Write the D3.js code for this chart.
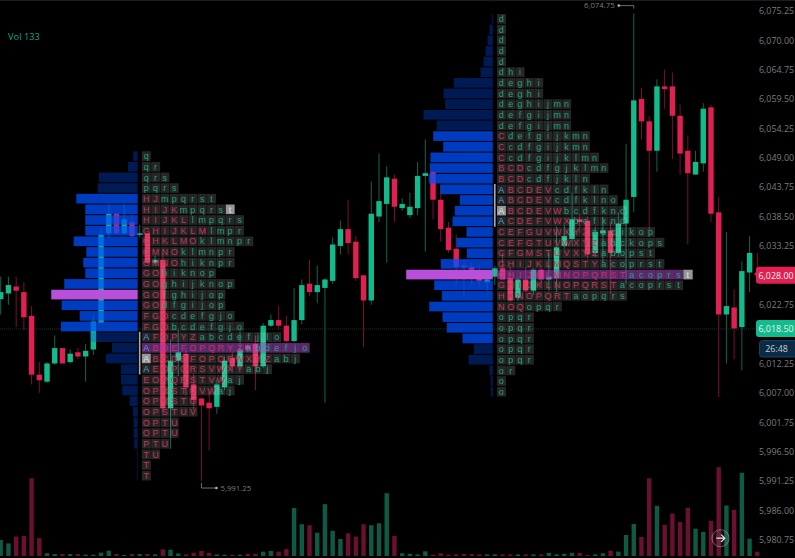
<!DOCTYPE html>
<html>
<head>
<meta charset="utf-8">
<script src="https://cdn.jsdelivr.net/npm/d3@7"></script>
<style>
html, body { margin: 0; padding: 0; background: #000; overflow: hidden; }
svg { display: block; font-family: "Open Sans", sans-serif; }
</style>
</head>
<body>
<script>
// Candles, one entry per bar
var opens = [6023.75,6024.75,6026,6025,6020.75,6010.25,6009,6012.25,6015,6012.5,6014.25,6013.5,6014.75,6019.5,6035.5,6039,6035.5,6037.5,6035.25,6035.5,6030.25,6030.75,6004.25,6012.75,6014,6008.5,6006,6005.25,6004.5,6008,6013.25,6011.75,6015.5,6015.75,6011.75,6019,6020,6019,6016.25,6020,6026.5,6025,6025.75,6027,6033.25,6036.25,6034,6028,6023.5,6038.5,6040.75,6045.25,6040,6038.75,6040,6045.75,6046.5,6041.5,6036.5,6032.75,6029.75,6029.5,6027.5,6026.75,6027.75,6029.25,6027.5,6024,6027.25,6025.25,6029,6027.25,6027.5,6033.25,6034.5,6038,6037.75,6032,6035.5,6036,6032,6037.25,6042,6059.5,6055.5,6050.25,6061.75,6061.75,6056.5,6050.25,6046,6048,6058,6039.25,6021,6022.25,6018.75,6028.5,6028.5];
var highs = [6027.75,6027.75,6027.75,6026.75,6022.5,6012.5,6012.5,6017.25,6015,6014.75,6015,6015.75,6021,6036.5,6040.75,6039,6040.75,6039,6037,6035.5,6031.5,6032,6016.5,6018.25,6014.75,6010.5,6006,6007,6009.5,6013.5,6014.25,6018,6015.75,6017.25,6019.5,6021,6022.5,6020.75,6025.75,6027.25,6030.75,6029.75,6027.5,6034.75,6037.75,6041.5,6035,6028,6044.75,6049.75,6047.5,6046,6041.75,6042.75,6048.25,6052.25,6046.5,6044.25,6037.5,6035.25,6030.75,6030.25,6029.75,6028.25,6029.75,6032,6029.5,6027.5,6029.5,6029.25,6029.25,6032,6036.75,6037,6042.75,6039,6038.5,6036.75,6038.25,6037.5,6039.25,6051.5,6074.75,6061.5,6056.5,6063,6064.75,6064.25,6058.5,6053,6050.25,6058.75,6058.5,6042,6035.75,6025.5,6030.5,6035,6032];
var lows = [6021,6022.75,6018.75,6018.25,6008.5,6007,6008.75,6012,6012.25,6012.25,6013,6009,6013.75,6019.25,6034.75,6035.5,6035.25,6034.75,6034.75,6030.25,6030,6003.5,5997,6010,6006.5,6004,5991.25,5996.75,6003.25,6007.5,6011,6011.5,6014.25,6007.5,6011.5,6018.75,6018.25,6016,6016,6019.25,6024.25,6023,6005.25,6026.5,6031.75,6031.75,6027,6015.25,6022.75,6037.5,6030.25,6037.5,6039.5,6038.25,6038.75,6032.25,6038,6034,6032,6026.25,6024.25,6026.25,6026,6025.25,6026.25,6027.25,6023.25,6023.5,6025,6024.5,6026,6025.25,6025,6032.75,6033.25,6035.5,6031,6031.25,6030.25,6024.75,6031.25,6026.5,6039.25,6052.25,6036,6046.5,6057.75,6048.75,6046,6033.5,6046,6046.5,6037.5,6006.25,6012.25,6013,6011,6025,6027.5];
var closes = [6025,6026.25,6025.25,6020.5,6010.25,6009.25,6012.25,6015,6012.25,6014,6013.5,6014.5,6019.75,6035.25,6039,6035.5,6038,6035,6035.5,6030.25,6030.75,6004.25,6012.75,6014.25,6008,6005.75,6004.75,6004.25,6008.5,6012.75,6011.75,6014.75,6014.75,6011.75,6019,6020,6019,6016.25,6020,6026.25,6025,6026.25,6027.25,6033.5,6036.25,6033.75,6027.5,6023.5,6039,6041.25,6045.5,6040.25,6040.75,6040.25,6045.75,6046.25,6041.5,6036.25,6032.5,6029.5,6029.5,6029,6027,6027.25,6029.25,6027.25,6023.5,6027.25,6025.25,6029,6027.25,6027.75,6033,6035,6038,6037.5,6031.75,6035.75,6036,6032,6037.25,6041.5,6059.25,6055.5,6050.25,6061.75,6061.25,6056.5,6049.75,6046.25,6048.25,6057.75,6039,6021,6022.5,6018.5,6028.75,6032,6028];
var volumes = [496,390,600,620,2400,550,85,60,60,60,60,40,40,105,165,60,30,60,60,60,50,205,195,80,50,100,155,100,50,40,40,40,70,70,135,155,135,215,1480,980,950,720,1600,775,525,700,600,980,950,1010,1940,620,85,70,50,145,40,85,40,50,60,60,50,50,50,50,50,50,50,50,50,95,50,70,100,95,30,50,85,165,135,650,990,590,2400,1550,960,1310,1050,1490,845,745,1085,2740,1560,1425,2570,535,133];

// Price axis
var tickPrices = [6075.25,6070,6064.75,6059.5,6054.25,6049,6043.75,6038.5,6033.25,6022.75,6012.25,6007,6001.75,5996.5,5991.25,5986,5980.75];
var axisTop = 6075.25, axisBottom = 5980.75;
var lastPrice = 6028, livePrice = 6018.5;

// Left market profile
var leftBar = 18, leftHigh = 6050.25, leftLow = 5991.25, leftPoc = 13, leftLetterPoc = 18;
var leftValueArea = [4, 16], leftOpenRange = [17, 20];
var leftLetters = ["q","qr","qrs","pqrs","HJmpqrst","HIJKmpqrst","HIJKLlmpqrs","GHIJKLMlmpr","GHKLMOklmnpr","GMNOklmnpr","GMNOhiknpr","GOhiknop","GOghijknop","GOfghijop","GOdfgijop","FGOcdefgjo","FGObcdefgjo","AFOPYZabcdefjlo","ABDEFOPQRYZabdefjo","ABCDEFOPQRWXYZabj","AEOPQRSVWXYabj","EOPQRSTVWaj","OPRSTUVWaj","OPRSTU","OPSTUV","OPTU","OPTU","PTU","TU","T","T"];
var leftSizes = [44,97,387,400,614,524,524,524,640,514,544,524,734,864,760,580,767,470,257,317,167,167,154,80,47,40,40,34,8,8,8];

// Right market profile
var rightBar = 64, rightHigh = 6074.75, rightLow = 6006.25, rightPoc = 24, rightLetterPoc = 24;
var rightValueArea = [11, 30], rightOpenRange = [16, 19];
var rightLetters = ["d","d","d","d","d","dhi","deghi","deghi","deghijmn","defgijmn","defgijmn","Cdefgijkmn","Ccdfgijkmn","Ccdfgijklmn","BCDcdfgjklmn","BCDcdfjkln","ABCDEVcdfkln","ABCDEVcdfklno","ABCDEVWbcdfkno","ACDEFVWXbcfkno","CEFGUVWXYZabcikop","CEFGTUVWXYZabckops","CFGMSTUVXYZabopst","GHIJKLMQSTYacoprst","GHIJKLMNOPQRSTacoprst","GHIJKLNOPQRSTacoprst","HKNOPQRTaopqrs","NOQopqr","opqr","opqr","opqr","opqr","opqr","or","o","o"];
var rightSizes = [10,33,53,73,93,123,390,493,476,693,560,596,496,623,630,640,523,330,380,403,263,363,260,520,866,586,510,636,503,460,303,190,243,33,20,20];

var width = 795, height = 558;
var green = "#11bb8b", red = "#e21f52";
var greenDim = "#0e6650", redDim = "#7a1033";

var svg = d3.select("body").append("svg").attr("width", width).attr("height", height);
svg.append("rect").attr("width", width).attr("height", height).attr("fill", "#000");
svg.append("rect").attr("width", width).attr("height", 1).attr("fill", "#1c1c1c");

var x = d3.scaleLinear().domain([0, opens.length - 1]).range([0.7, 757.3]);
var y = d3.scaleLinear().domain([axisBottom, axisTop]).range([539.8, 10.8]);
var yVol = d3.scaleLinear().domain([0, 2500]).range([556, 475]);
var sizeScale = d3.scaleLinear().domain([0, 1000]).range([0, 100]);

var bars = d3.range(opens.length);
function isUp(i) { return closes[i] >= opens[i]; }

// Volume
svg.append("g").selectAll("rect").data(bars).enter().append("rect")
    .attr("x", function (i) { return x(i) - 2.2; })
    .attr("width", 4.4)
    .attr("y", function (i) { return yVol(volumes[i]); })
    .attr("height", function (i) { return yVol(0) - yVol(volumes[i]); })
    .attr("fill", function (i) { return isUp(i) ? "#0e5a46" : "#6b1030"; });

// Faint line at the live price
svg.append("line").attr("x1", 0).attr("x2", 757)
    .attr("y1", y(livePrice) + 0.5).attr("y2", y(livePrice) + 0.5)
    .attr("stroke", "#0c3a2e").attr("stroke-dasharray", "1,1");

// Candles
var candles = svg.append("g");
candles.selectAll("line").data(bars).enter().append("line")
    .attr("x1", function (i) { return x(i); })
    .attr("x2", function (i) { return x(i); })
    .attr("y1", function (i) { return y(highs[i]); })
    .attr("y2", function (i) { return y(lows[i]); })
    .attr("stroke", function (i) { return isUp(i) ? greenDim : redDim; })
    .attr("stroke-width", 1);
candles.selectAll("rect").data(bars).enter().append("rect")
    .attr("x", function (i) { return x(i) - 2.7; })
    .attr("width", 5.4)
    .attr("y", function (i) { return y(Math.max(opens[i], closes[i])); })
    .attr("height", function (i) { return Math.max(1.5, Math.abs(y(opens[i]) - y(closes[i]))); })
    .attr("fill", function (i) { return isUp(i) ? green : red; });

function letterColor(ch) {
    if (ch === "A") return "#4f9fd8";
    return ch === ch.toUpperCase() ? "#c23555" : "#20a07b";
}

function drawProfile(barIndex, high, low, letters, sizes, poc, letterPoc, valueArea, openRange, marked) {
    var g = svg.append("g");
    var axisX = x(barIndex);
    var rows = d3.scaleBand().domain(d3.range(letters.length)).range([y(high), y(low)]);
    var cellW = 9.32;
    var barH = rows.bandwidth() - 1;

    // Size bars, growing left from the session's bar
    g.selectAll("rect.size").data(sizes).enter().append("rect")
        .attr("class", "size")
        .attr("x", function (d) { return axisX - 2 - sizeScale(d); })
        .attr("y", function (d, i) { return rows(i) + 0.5; })
        .attr("width", function (d) { return sizeScale(d); })
        .attr("height", barH)
        .attr("fill", function (d, i) { return i === poc ? "#b950dc" : "#0050ff"; })
        .attr("fill-opacity", function (d, i) {
            if (i === poc) return 1;
            return i >= valueArea[0] && i <= valueArea[1] ? 0.75 : 0.33;
        });

    // Opening range line
    g.append("line").attr("x1", axisX).attr("x2", axisX)
        .attr("y1", rows(openRange[0])).attr("y2", rows(openRange[1]) + rows.bandwidth())
        .attr("stroke", "#a8a8a8").attr("stroke-width", 1.6);

    // Letter cells
    letters.forEach(function (word, r) {
        var chars = word.split("");
        function isMarked(i) {
            return (marked[0] === r && i === 0) || (marked[1] === r && i === chars.length - 1);
        }
        var row = g.append("g").attr("transform", "translate(" + (axisX + 2.2) + "," + rows(r) + ")");
        row.selectAll("rect").data(chars).enter().append("rect")
            .attr("x", function (d, i) { return i * cellW; })
            .attr("y", 0.5)
            .attr("width", r === letterPoc ? cellW : cellW - 0.4)
            .attr("height", barH)
            .attr("fill", function (d, i) {
                if (isMarked(i)) return "#a6a6a6";
                return r === letterPoc ? "#b950dc" : "#fff";
            })
            .attr("fill-opacity", function (d, i) {
                if (isMarked(i)) return 0.9;
                return r === letterPoc ? 0.5 : 0.15;
            });
        row.selectAll("text").data(chars).enter().append("text")
            .attr("x", function (d, i) { return i * cellW + cellW / 2 - 0.3; })
            .attr("y", rows.bandwidth() / 2 + 3.2)
            .attr("text-anchor", "middle")
            .attr("font-family", "'Liberation Sans', sans-serif")
            .attr("font-size", 9)
            .attr("fill", function (d, i) { return isMarked(i) ? "#e2e2e2" : letterColor(d); })
            .text(function (d) { return d; });
    });
}

drawProfile(leftBar, leftHigh, leftLow, leftLetters, leftSizes, leftPoc, leftLetterPoc, leftValueArea, leftOpenRange, [19, 5]);
drawProfile(rightBar, rightHigh, rightLow, rightLetters, rightSizes, rightPoc, rightLetterPoc, rightValueArea, rightOpenRange, [18, 24]);

// High and low callouts
function callout(barIndex, price, dir) {
    var px = x(barIndex), py = y(price) + (dir < 0 ? -5 : 2);
    var ly = py + (dir < 0 ? -3 : 5);
    var g = svg.append("g");
    g.append("path")
        .attr("d", "M" + px + "," + py + "V" + ly + "H" + (px + dir * 15))
        .attr("fill", "none").attr("stroke", "#8a8a8a").attr("stroke-width", 0.8);
    g.append("circle").attr("cx", px + dir * 15).attr("cy", ly).attr("r", 1.3).attr("fill", "#b5b5b5");
    g.append("text").attr("x", px + dir * 19).attr("y", ly + 2.8)
        .attr("text-anchor", dir < 0 ? "end" : "start")
        .attr("font-size", 7.8).attr("fill", "#7c7c7c")
        .text(d3.format(",.2f")(price));
}
callout(82, 6074.75, -1);
callout(26, 5991.25, 1);

// Price axis
var axis = d3.axisRight(y).tickValues(tickPrices).tickSize(0).tickPadding(0).tickFormat(d3.format(",.2f"));
var axisG = svg.append("g").attr("transform", "translate(759,0)").call(axis);
axisG.select(".domain").remove();
axisG.selectAll("text").attr("fill", "#7c7c7c").attr("font-size", 8.9).attr("font-family", "'Open Sans', sans-serif");

// Price labels
function priceLabel(price, fill) {
    var py = y(price);
    svg.append("rect").attr("x", 756).attr("y", py - 8.5).attr("width", 44).attr("height", 17).attr("rx", 3).attr("fill", fill);
    svg.append("text").attr("x", 776).attr("y", py + 3.2)
        .attr("text-anchor", "middle")
        .attr("font-size", 8.9).attr("fill", "#e8f5f0").text(d3.format(",.2f")(price));
}
priceLabel(lastPrice, red);
priceLabel(livePrice, green);

// Countdown
svg.append("rect").attr("x", 759.5).attr("y", 340.5).attr("width", 40).attr("height", 16.5).attr("rx", 3)
    .attr("fill", "#0b2b44").attr("stroke", "#0e4468");
svg.append("text").attr("x", 776.5).attr("y", 352).attr("text-anchor", "middle")
    .attr("font-size", 8.9).attr("fill", "#c3ced6").text("26:48");

// Volume readout
svg.append("text").attr("x", 8).attr("y", 40).attr("font-size", 9.3).attr("fill", "#10a88a").text("Vol 133");

// Jump to latest button
var btn = svg.append("g").attr("transform", "translate(720.5,538.2)");
btn.append("circle").attr("r", 8.6).attr("fill", "#fff").attr("fill-opacity", 0.07).attr("stroke", "#fff").attr("stroke-opacity", 0.3);
btn.append("path").attr("d", "M-4.2,0H4M0.6,-3.6L4.2,0L0.6,3.6")
    .attr("fill", "none").attr("stroke", "#e8e8e8").attr("stroke-width", 1.2);
</script>
</body>
</html>
